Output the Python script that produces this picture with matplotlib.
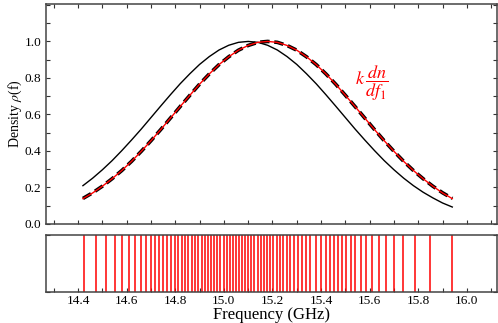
import matplotlib
matplotlib.use("Agg")
import matplotlib.pyplot as plt
from matplotlib.ticker import MultipleLocator, NullFormatter

plt.rcParams["font.family"] = ["Liberation Serif", "DejaVu Serif"]
plt.rcParams["mathtext.fontset"] = "stix"

# Frequency grid (GHz) for the density curves
freq = [14.42, 14.46, 14.50, 14.54, 14.58, 14.62, 14.66, 14.70, 14.74, 14.78,
        14.82, 14.86, 14.90, 14.94, 14.98, 15.02, 15.06, 15.10, 15.14, 15.18,
        15.22, 15.26, 15.30, 15.34, 15.38, 15.42, 15.46, 15.50, 15.54, 15.58,
        15.62, 15.66, 15.70, 15.74, 15.78, 15.82, 15.86, 15.90, 15.94]

# Reference density rho(f) (black solid)
rho = [0.210, 0.251, 0.297, 0.347, 0.402, 0.460, 0.520, 0.583, 0.646, 0.708,
       0.768, 0.823, 0.874, 0.917, 0.953, 0.979, 0.995, 1.000, 0.995, 0.979,
       0.953, 0.917, 0.874, 0.823, 0.768, 0.708, 0.646, 0.583, 0.520, 0.460,
       0.402, 0.347, 0.297, 0.251, 0.210, 0.174, 0.143, 0.115, 0.093]

# Fitted density (black dashed) and k dn/df1 of the mode set (red)
fit_density = [0.140, 0.171, 0.207, 0.248, 0.293, 0.343, 0.398, 0.456, 0.517, 0.580,
               0.643, 0.705, 0.766, 0.822, 0.873, 0.916, 0.952, 0.978, 0.995, 1.000,
               0.995, 0.978, 0.952, 0.916, 0.873, 0.822, 0.766, 0.705, 0.643, 0.580,
               0.517, 0.456, 0.398, 0.343, 0.293, 0.248, 0.207, 0.171, 0.140]
k_dn_df = [0.139, 0.170, 0.207, 0.248, 0.293, 0.343, 0.398, 0.456, 0.517, 0.580,
           0.643, 0.705, 0.766, 0.822, 0.873, 0.916, 0.952, 0.978, 0.995, 1.000,
           0.995, 0.978, 0.952, 0.916, 0.873, 0.822, 0.766, 0.705, 0.643, 0.580,
           0.517, 0.456, 0.398, 0.343, 0.293, 0.248, 0.207, 0.170, 0.139]

# Individual mode frequencies f1 (GHz)
modes = [14.423, 14.473, 14.515, 14.551, 14.581, 14.608, 14.634, 14.658, 14.678,
         14.700, 14.718, 14.735, 14.751, 14.767, 14.782, 14.797, 14.811, 14.826,
         14.840, 14.854, 14.867, 14.881, 14.894, 14.908, 14.921, 14.934, 14.947,
         14.960, 14.973, 14.986, 14.999, 15.011, 15.024, 15.037, 15.050, 15.062,
         15.075, 15.088, 15.101, 15.113, 15.126, 15.139, 15.152, 15.164, 15.177,
         15.190, 15.203, 15.217, 15.231, 15.245, 15.259, 15.274, 15.289, 15.305,
         15.321, 15.337, 15.356, 15.378, 15.400, 15.421, 15.437, 15.453, 15.468,
         15.485, 15.502, 15.522, 15.541, 15.564, 15.586, 15.609, 15.638, 15.666,
         15.700, 15.739, 15.786, 15.848, 15.937]

xtick_values = [14.4, 14.6, 14.8, 15.0, 15.2, 15.4, 15.6, 15.8, 16.0]
ytick_values = [0.0, 0.2, 0.4, 0.6, 0.8, 1.0]

W, H = 498, 323
fig = plt.figure(figsize=(W / 100, H / 100), dpi=100)
ax1 = fig.add_axes([46 / W, (H - 224) / H, 451 / W, 220 / H])
ax2 = fig.add_axes([46 / W, (H - 292) / H, 451 / W, 57 / H])

xlim = (14.268, 16.124)
spine_color = "#444444"

# Upper panel: density curves
ax1.plot(freq, rho, color="black", lw=1.0)
ax1.plot(freq, fit_density, color="black", lw=2.6, ls=(0, (2.6, 1.3)))
ax1.plot(freq, k_dn_df, color="red", lw=1.0)
ax1.text(15.609, 0.77, r"$k\,\dfrac{dn}{df_1}$", color="red", fontsize=13,
         ha="center", va="center")

ax1.set_xlim(*xlim)
ax1.set_ylim(0, 1.205)
ax1.set_yticks(ytick_values)
ax1.set_yticklabels([f"{v:.1f}" for v in ytick_values])
ax1.yaxis.set_minor_locator(MultipleLocator(0.1))
ax1.xaxis.set_major_locator(MultipleLocator(0.2))
ax1.xaxis.set_minor_locator(MultipleLocator(0.1))
ax1.xaxis.set_major_formatter(NullFormatter())
ax1.tick_params(which="both", direction="in", top=True, right=True, length=3,
                width=0.8, labelsize=9.5, pad=3.5, colors="#333333",
                labelcolor="black")
ax1.set_ylabel(r"Density $\rho$(f)", fontsize=10, labelpad=0)

# Lower panel: mode positions
ax2.vlines(modes, 0, 1, color="red", lw=1.1)
ax2.set_xlim(*xlim)
ax2.set_ylim(0, 1)
ax2.set_yticks([0, 1])
ax2.yaxis.set_major_formatter(NullFormatter())
ax2.set_xticks(xtick_values)
ax2.set_xticklabels([f"{v:.1f}" for v in xtick_values])
ax2.xaxis.set_minor_locator(MultipleLocator(0.1))
ax2.tick_params(which="both", direction="in", right=True, length=3, width=0.8,
                labelsize=9.5, pad=2.5, colors="#333333", labelcolor="black")
ax2.set_xlabel("Frequency (GHz)", fontsize=12, va="center")
ax2.xaxis.set_label_coords(0.5, -0.40)

for ax in (ax1, ax2):
    for sp in ax.spines.values():
        sp.set_color(spine_color)
        sp.set_linewidth(1.1)

fig.savefig("out.png", dpi=100)
